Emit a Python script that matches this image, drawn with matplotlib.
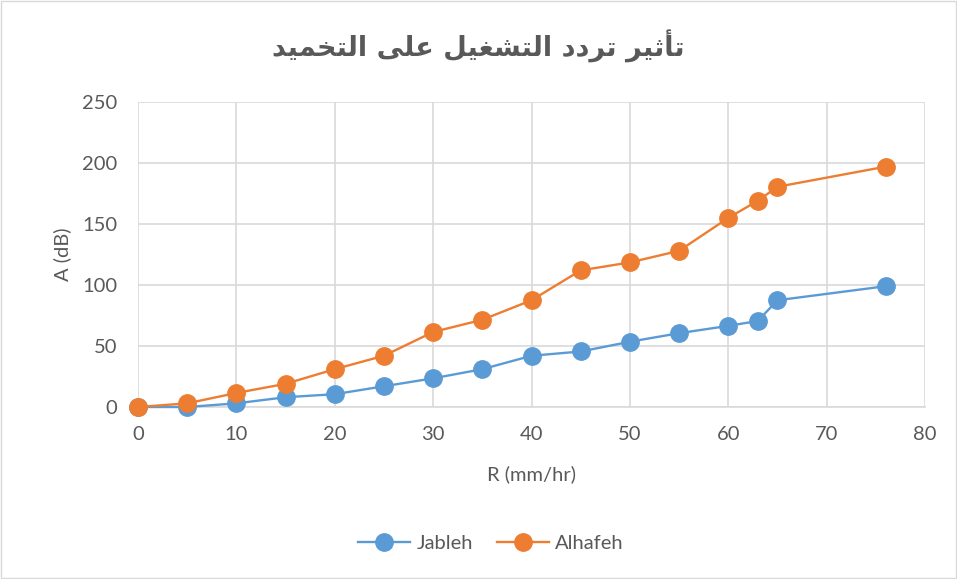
import matplotlib.pyplot as plt
from matplotlib.patches import Rectangle

# data
rain_rate = [0, 5, 10, 15, 20, 25, 30, 35, 40, 45, 50, 55, 60, 63, 65, 76]
jableh = [0, 0, 3, 8, 10.5, 17, 23.5, 31, 42, 45.5, 53.5, 60.5, 66.5, 70.5, 87.5, 99]
alhafeh = [0, 3, 11.5, 19, 31, 42, 61.5, 71.5, 87.5, 112, 118.5, 128, 155, 169, 180.5, 197]

title_ar = "تأثير تردد التشغيل على التخميد"

# matplotlib has no Arabic shaping, so map letters to presentation forms
# (isolated, final, initial, medial)
forms = {
    "\u0627": ("\uFE8D", "\uFE8E", None, None),
    "\u0623": ("\uFE83", "\uFE84", None, None),
    "\u062A": ("\uFE95", "\uFE96", "\uFE97", "\uFE98"),
    "\u062B": ("\uFE99", "\uFE9A", "\uFE9B", "\uFE9C"),
    "\u062E": ("\uFEA5", "\uFEA6", "\uFEA7", "\uFEA8"),
    "\u062F": ("\uFEA9", "\uFEAA", None, None),
    "\u0631": ("\uFEAD", "\uFEAE", None, None),
    "\u0634": ("\uFEB5", "\uFEB6", "\uFEB7", "\uFEB8"),
    "\u0639": ("\uFEC9", "\uFECA", "\uFECB", "\uFECC"),
    "\u063A": ("\uFECD", "\uFECE", "\uFECF", "\uFED0"),
    "\u0644": ("\uFEDD", "\uFEDE", "\uFEDF", "\uFEE0"),
    "\u0645": ("\uFEE1", "\uFEE2", "\uFEE3", "\uFEE4"),
    "\u0649": ("\uFEEF", "\uFEF0", None, None),
    "\u064A": ("\uFEF1", "\uFEF2", "\uFEF3", "\uFEF4"),
}


def shape_arabic(text):
    out = []
    for i, c in enumerate(text):
        if c not in forms:
            out.append(c)
            continue
        prev = text[i - 1] if i > 0 else " "
        nxt = text[i + 1] if i + 1 < len(text) else " "
        join_prev = prev in forms and forms[prev][2] is not None
        join_next = nxt in forms and forms[c][2] is not None
        iso, fin, ini, med = forms[c]
        if join_prev and join_next:
            out.append(med)
        elif join_prev:
            out.append(fin)
        elif join_next:
            out.append(ini)
        else:
            out.append(iso)
    return "".join(out)[::-1]


blue = "#5B9BD5"
orange = "#ED7D31"
grid_c = "#D9D9D9"
text_c = "#595959"
font = "Lato"

fig = plt.figure(figsize=(9.57, 5.79), dpi=100)
ax = fig.add_axes([138 / 957, 1 - 407 / 579, (925 - 138) / 957, (407 - 102) / 579])

ax.plot(rain_rate, jableh, color=blue, lw=1.7, marker="o", markersize=12.5,
        markeredgecolor=blue, label="Jableh", zorder=3, clip_on=False)
ax.plot(rain_rate, alhafeh, color=orange, lw=1.7, marker="o", markersize=12.5,
        markeredgecolor=orange, label="Alhafeh", zorder=3, clip_on=False)

ax.set_xlim(0, 80)
ax.set_ylim(0, 250)
ax.set_xticks(range(0, 81, 10))
ax.set_yticks(range(0, 251, 50))
ax.grid(True, color=grid_c, lw=1.2)
ax.set_axisbelow(True)
for s in ["left", "right", "top"]:
    ax.spines[s].set_visible(False)
ax.spines["bottom"].set_color(grid_c)
ax.spines["bottom"].set_linewidth(1.2)
ax.tick_params(length=0, labelsize=14.5, labelcolor=text_c)
ax.tick_params(axis="x", pad=14)
ax.tick_params(axis="y", pad=15)
for lbl in ax.get_xticklabels() + ax.get_yticklabels():
    lbl.set_family(font)

ax.set_xlabel("R (mm/hr)", fontsize=14.5, color=text_c, family=font, labelpad=16)
ax.set_ylabel("A (dB)", fontsize=14.5, color=text_c, family=font, labelpad=8)

fig.text(0.5, 1 - 46 / 579, shape_arabic(title_ar), ha="center", va="center",
         fontsize=19.5, fontweight="bold", color=text_c, family="DejaVu Sans")

fig.legend(loc="center", bbox_to_anchor=(491 / 957, 1 - 543 / 579), ncol=2, frameon=False,
           prop={"family": font, "size": 14.5}, labelcolor=text_c, handlelength=2.6,
           columnspacing=1.2, handletextpad=0.3)

fig.patches.append(Rectangle((0.001, 0.001), 0.998, 0.998, transform=fig.transFigure,
                             fill=False, edgecolor=grid_c, lw=1))

fig.savefig("out.png", dpi=100, facecolor="white")
